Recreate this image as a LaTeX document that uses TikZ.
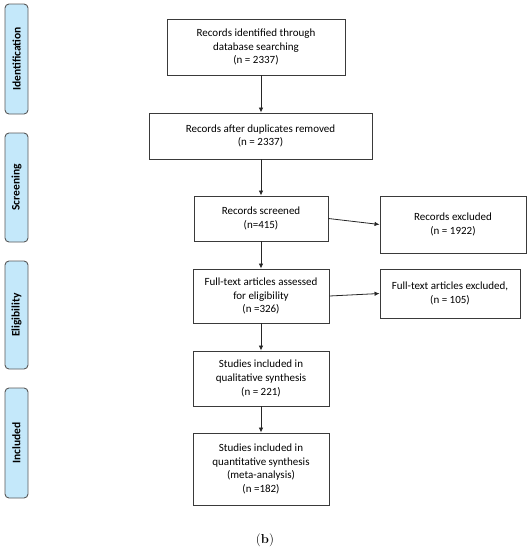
\documentclass[tikz,border=0pt]{standalone}
\usepackage{fontspec}
\setmainfont{Carlito}
\newfontfamily\capfont{Latin Modern Roman}
\usetikzlibrary{arrows.meta}
\definecolor{sidefill}{HTML}{C4E8FA}
\definecolor{boxline}{HTML}{3A3A3A}
\tikzset{
  box/.style={draw=boxline, line width=0.9pt, fill=white, align=center, inner sep=2pt,
    font=\fontsize{11}{13.8}\selectfont},
  side/.style={draw=black!65, line width=0.9pt, fill=sidefill, rounded corners=4pt,
    minimum height=23pt, inner sep=0pt, rotate=90,
    font=\fontsize{11.5}{13}\selectfont\bfseries},
  arr/.style={draw=black!85, line width=0.8pt, -{Latex[length=5pt,width=4.5pt]}}
}
\begin{document}
\begin{tikzpicture}[x=1pt,y=-1pt]
\useasboundingbox (0,0) rectangle (530,550);
% side labels
\node[side, minimum width=110pt] (sid) at (16.5,59) {Identification};
\node[side, minimum width=109pt] (ssc) at (16.5,187.5) {Screening};
\node[side, minimum width=108pt] (sel) at (16.5,315) {Eligibility};
\node[side, minimum width=110pt] (sin) at (16.5,443) {Included};
% boxes
\node[box, minimum width=178pt, minimum height=56pt] (b1) at (256,47)
  {Records identified through\\database searching\\(n = 2337)};
\node[box, minimum width=223pt, minimum height=46pt] (b2) at (260.5,136)
  {Records after duplicates removed\\(n = 2337)};
\node[box, minimum width=134pt, minimum height=45pt] (b3) at (261,218.5)
  {Records screened\\(n=415)};
\node[box, minimum width=146pt, minimum height=57pt] (e1) at (453,224.5)
  {Records excluded\\(n = 1922)};
\node[box, minimum width=136pt, minimum height=54pt] (b4) at (261,296)
  {Full-text articles assessed\\for eligibility\\(n =326)};
\node[box, minimum width=140pt, minimum height=49pt] (e2) at (450,293.5)
  {Full-text articles excluded,\\(n = 105)};
\node[box, minimum width=136pt, minimum height=55pt] (b5) at (261,378.5)
  {Studies included in\\qualitative synthesis\\(n = 221)};
\node[box, minimum width=136pt, minimum height=72pt] (b6) at (261,469)
  {Studies included in\\quantitative synthesis\\(meta-analysis)\\(n =182)};
\node[font=\capfont\fontsize{13}{15}\selectfont] (cap) at (265,540) {(\textbf{b})};
% arrows
\draw[arr] (b1.south -| b3.center) -- (b2.north -| b3.center);
\draw[arr] (b2.south -| b3.center) -- (b3.north);
\draw[arr] (b3.south) -- (b4.north);
\draw[arr] (b4.south) -- (b5.north);
\draw[arr] (b5.south) -- (b6.north);
\draw[arr] (b3.east) -- (e1.west);
\draw[arr] (b4.east) -- (e2.west);
\end{tikzpicture}
\end{document}
